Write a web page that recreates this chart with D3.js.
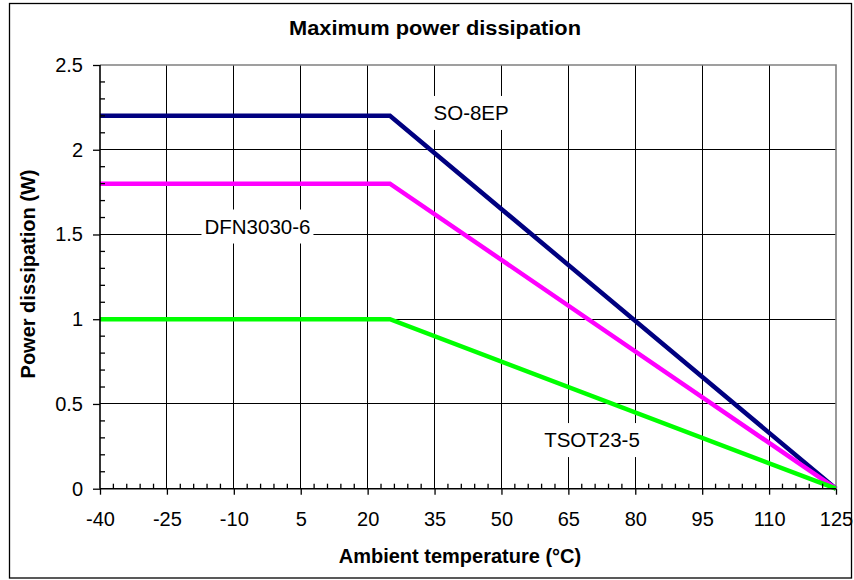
<!DOCTYPE html>
<html>
<head>
<meta charset="utf-8">
<script src="https://cdn.jsdelivr.net/npm/d3@7"></script>
<style>
  html, body { margin: 0; padding: 0; background: #fff; }
  svg { display: block; font-family: "Liberation Sans", Arial, sans-serif; }
</style>
</head>
<body>
<svg id="chart" width="854" height="580"></svg>
<script>
// ---- data ----
const temperatures = [-40, 25, 125];
const so8epValues = [2.2, 2.2, 0];
const dfn3030Values = [1.8, 1.8, 0];
const tsot23Values = [1.0, 1.0, 0];
const seriesNames = ["SO-8EP", "DFN3030-6", "TSOT23-5"];
const seriesColors = ["#000080", "#FF00FF", "#00FF00"];
const xTickValues = [-40, -25, -10, 5, 20, 35, 50, 65, 80, 95, 110, 125];
const xTickLabels = ["-40", "-25", "-10", "5", "20", "35", "50", "65", "80", "95", "110", "125"];
const yTickValues = [0, 0.5, 1, 1.5, 2, 2.5];
const yTickLabels = ["0", "0.5", "1", "1.5", "2", "2.5"];
// label anchor points (data units: temperature, power)
const labelTemps = [43.2, -4.7, 70.3];
const labelPowers = [2.217, 1.547, 0.287];
const chartTitle = "Maximum power dissipation";
const xTitle = "Ambient temperature (°C)";
const yTitle = "Power dissipation (W)";

// ---- layout ----
const svg = d3.select("#chart");
const pL = 100, pR = 836, pT = 65, pB = 488.7;
const x = d3.scaleLinear().domain([-40, 125]).range([pL, pR]);
const y = d3.scaleLinear().domain([0, 2.5]).range([pB, pT]);

// outer frame
svg.append("rect").attr("x", 9.5).attr("y", 3.5).attr("width", 842).attr("height", 574.5)
  .attr("fill", "#fff").attr("stroke", "#000").attr("stroke-width", 1.3);

// gridlines
const grid = svg.append("g").attr("stroke", "#000").attr("stroke-width", 1)
  .attr("shape-rendering", "crispEdges");
grid.selectAll("line.v").data(xTickValues.slice(1, -1)).join("line").attr("class", "v")
  .attr("x1", d => x(d)).attr("x2", d => x(d)).attr("y1", pT).attr("y2", pB);
grid.selectAll("line.h").data(yTickValues.slice(1, -1)).join("line").attr("class", "h")
  .attr("x1", pL).attr("x2", pR).attr("y1", d => y(d)).attr("y2", d => y(d));

// plot frame top/right (gray)
svg.append("path")
  .attr("d", `M${pL},${pT}H${pR}V${pB}`)
  .attr("fill", "none").attr("stroke", "#808080").attr("stroke-width", 1.6);

// series labels with white boxes
const lg = svg.append("g");
seriesNames.forEach((name, i) => {
  const cx = x(labelTemps[i]), cy = y(labelPowers[i]);
  const t = lg.append("text").attr("x", cx).attr("y", cy).attr("dy", "0.36em")
    .attr("text-anchor", "middle").attr("font-size", 20.5).attr("fill", "#000").text(name);
  const bb = t.node().getBBox();
  lg.insert("rect", "text").attr("x", bb.x - 3).attr("y", cy - 17)
    .attr("width", bb.width + 6).attr("height", 34).attr("fill", "#fff");
});

// series lines
const allSeries = [so8epValues, dfn3030Values, tsot23Values];
const line = d3.line().x((d, i) => x(temperatures[i])).y(d => y(d));
svg.append("g").selectAll("path").data(allSeries).join("path")
  .attr("d", d => line(d))
  .attr("fill", "none")
  .attr("stroke", (d, i) => seriesColors[i])
  .attr("stroke-width", 4.5)
  .attr("stroke-linejoin", "miter");

// axes
const yAxis = d3.axisLeft(y).tickValues(yTickValues)
  .tickFormat((d, i) => yTickLabels[i]).tickSize(7).tickPadding(10);
const gy = svg.append("g").attr("transform", `translate(${pL},0)`).call(yAxis);
const xAxis = d3.axisBottom(x).tickValues(xTickValues)
  .tickFormat((d, i) => xTickLabels[i]).tickSize(6).tickPadding(17);
const gx = svg.append("g").attr("transform", `translate(0,${pB})`).call(xAxis);
[gx, gy].forEach(g => {
  g.select(".domain").attr("stroke", "#000").attr("stroke-width", 1.6);
  g.selectAll(".tick line").attr("stroke", "#000").attr("stroke-width", 1.3);
  g.selectAll(".tick text").attr("font-size", 20).attr("fill", "#000")
    .attr("font-family", "'Liberation Sans', Arial, sans-serif");
});
gy.select(".domain").attr("d", `M0,${pT}V${pB}`);
gx.select(".domain").attr("d", `M${pL},0H${pR}`);

// minor ticks
const yMinor = d3.range(0, 2.5001, 0.1).filter(v => Math.abs(v * 2 - Math.round(v * 2)) > 1e-6);
svg.append("g").selectAll("line").data(yMinor).join("line")
  .attr("x1", pL).attr("x2", pL + 5).attr("y1", d => y(d)).attr("y2", d => y(d))
  .attr("stroke", "#000").attr("stroke-width", 1.3);
const xMinor = d3.range(-40, 125.001, 3).filter(v => (v + 40) % 15 !== 0);
svg.append("g").selectAll("line").data(xMinor).join("line")
  .attr("x1", d => x(d)).attr("x2", d => x(d)).attr("y1", pB).attr("y2", pB - 5)
  .attr("stroke", "#000").attr("stroke-width", 1.3);

// titles
svg.append("text").attr("x", 435).attr("y", 35).attr("text-anchor", "middle")
  .attr("font-size", 20).attr("font-weight", "bold").attr("textLength", 292)
  .attr("lengthAdjust", "spacingAndGlyphs").text(chartTitle);
svg.append("text").attr("x", 460).attr("y", 563).attr("text-anchor", "middle")
  .attr("font-size", 20).attr("font-weight", "bold").text(xTitle);
svg.append("text").attr("transform", "translate(35,274) rotate(-90)")
  .attr("text-anchor", "middle").attr("font-size", 20).attr("font-weight", "bold").text(yTitle);
</script>
</body>
</html>
